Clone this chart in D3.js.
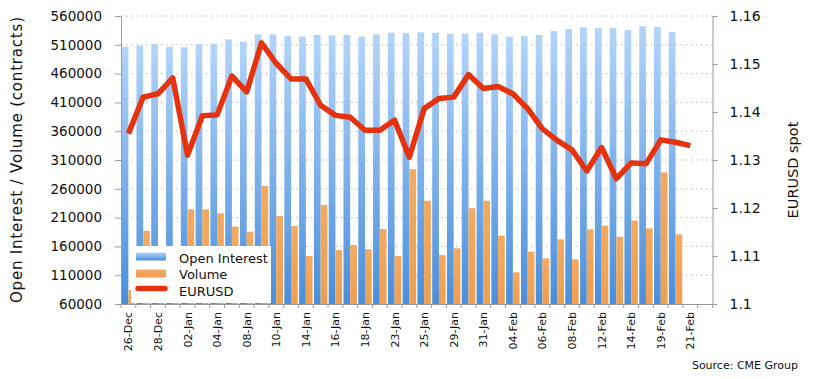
<!DOCTYPE html>
<html><head><meta charset="utf-8">
<script src="https://cdn.jsdelivr.net/npm/d3@7"></script>
<style>
body{margin:0;background:#fff;}
svg{display:block;font-family:"DejaVu Sans",sans-serif;}
</style>
</head><body>
<svg id="c" width="814" height="379"></svg>
<script>
const categories = ["26-Dec","27-Dec","28-Dec","31-Dec","02-Jan","03-Jan","04-Jan","07-Jan","08-Jan","09-Jan",
  "10-Jan","11-Jan","14-Jan","15-Jan","16-Jan","17-Jan","18-Jan","22-Jan","23-Jan","24-Jan",
  "25-Jan","28-Jan","29-Jan","30-Jan","31-Jan","01-Feb","04-Feb","05-Feb","06-Feb","07-Feb",
  "08-Feb","11-Feb","12-Feb","13-Feb","14-Feb","15-Feb","19-Feb","20-Feb","21-Feb","22-Feb"];
const tickLabels = ["26-Dec","28-Dec","02-Jan","04-Jan","08-Jan","10-Jan","14-Jan","16-Jan","18-Jan","23-Jan",
  "25-Jan","29-Jan","31-Jan","04-Feb","06-Feb","08-Feb","12-Feb","14-Feb","19-Feb","21-Feb"];
const openInterest = [506700,508400,511400,506700,505700,510900,511900,519500,515400,528200,
  528200,525300,524100,527000,526500,527000,524100,528200,531000,530500,
  531700,531000,528800,529300,531000,528200,524100,525300,527000,534000,
  537400,540400,539200,539200,535700,542600,540900,532200];
const volume = [84300,187000,130000,140000,224400,224400,217500,194300,185600,264900,
  212800,195400,143400,231900,153800,162500,155000,190200,143400,293900,
  239400,145100,156700,226200,239400,178600,115000,150800,139400,172300,
  137600,189700,196000,176900,204600,191400,288600,181000];
const eurusd = [1.1355,1.1431,1.1438,1.1471,1.1310,1.1392,1.1394,1.1475,1.1442,1.1544,
  1.1501,1.1469,1.1469,1.1414,1.1393,1.1389,1.1362,1.1362,1.1383,1.1306,
  1.1407,1.1428,1.1431,1.1478,1.1449,1.1453,1.1438,1.1407,1.1365,1.1341,
  1.1321,1.1277,1.1326,1.1261,1.1294,1.1292,1.1342,1.1337,1.1330];
const leftTicks = [60000,110000,160000,210000,260000,310000,360000,410000,460000,510000,560000];
const rightTicks = [1.10,1.11,1.12,1.13,1.14,1.15,1.16];
const seriesNames = ["Open Interest","Volume","EURUSD"];

const L = 121, R = 712.5, T = 16, B = 304;
const svg = d3.select("#c");

const defs = svg.append("defs");
const g1 = defs.append("linearGradient").attr("id","oiGrad").attr("x1",0).attr("y1",0).attr("x2",0).attr("y2",1);
g1.append("stop").attr("offset","0%").attr("stop-color","#b3d5fa");
g1.append("stop").attr("offset","100%").attr("stop-color","#4a8edb");
const g2 = defs.append("linearGradient").attr("id","volGrad").attr("x1",0).attr("y1",0).attr("x2",0).attr("y2",1);
g2.append("stop").attr("offset","0%").attr("stop-color","#f3aa60");
g2.append("stop").attr("offset","100%").attr("stop-color","#ee9f52");

const x = d3.scaleBand().domain(categories).range([L, R]).padding(0);
const xs = d3.scaleBand().domain(["oi","vol"]).range([0, x.bandwidth()]).paddingInner(0).paddingOuter(0.1);
const yL = d3.scaleLinear().domain([60000, 560000]).range([B, T]);
const yR = d3.scaleLinear().domain([1.10, 1.16]).range([B, T]);

// gridlines
svg.append("g").selectAll("line").data(leftTicks.slice(1)).join("line")
  .attr("x1", L).attr("x2", R).attr("y1", d => yL(d)).attr("y2", d => yL(d))
  .attr("stroke", "#b5b5b5").attr("stroke-width", 1).attr("stroke-dasharray", "1.5,3.5");

// bars
svg.append("g").selectAll("rect").data(openInterest).join("rect")
  .attr("x", (d,i) => x(categories[i]) + xs("oi"))
  .attr("width", xs.bandwidth())
  .attr("y", d => yL(d)).attr("height", d => B - yL(d))
  .attr("fill", "url(#oiGrad)");
svg.append("g").selectAll("rect").data(volume).join("rect")
  .attr("x", (d,i) => x(categories[i]) + xs("vol"))
  .attr("width", xs.bandwidth())
  .attr("y", d => yL(d)).attr("height", d => B - yL(d))
  .attr("fill", "url(#volGrad)");

// line
const line = d3.line().x((d,i) => x(categories[i]) + x.bandwidth()/2).y(d => yR(d));
svg.append("path").datum(eurusd).attr("d", line)
  .attr("fill","none").attr("stroke","#e5320f").attr("stroke-width",5.5)
  .attr("stroke-linejoin","round").attr("stroke-linecap","butt");

// axes
const axisColor = "#9a9a9a";
const gl = svg.append("g").attr("transform",`translate(${L},0)`)
  .call(d3.axisLeft(yL).tickValues(leftTicks).tickFormat(d3.format("d")).tickSize(6).tickSizeOuter(0).tickPadding(13));
const gr = svg.append("g").attr("transform",`translate(${R},0)`)
  .call(d3.axisRight(yR).tickValues(rightTicks).tickFormat(d => String(+d.toFixed(2))).tickSize(5).tickSizeOuter(0).tickPadding(12));
const gb = svg.append("g").attr("transform",`translate(0,${B})`)
  .call(d3.axisBottom(x).tickValues(tickLabels).tickSize(0).tickSizeOuter(0));
gb.selectAll("text").attr("transform","rotate(-90)").attr("x",-8).attr("y",0).attr("dy","0.36em")
  .attr("text-anchor","end").style("font-size","11px");
// category boundary ticks
svg.append("g").selectAll("line").data(categories.map(c => x(c)).concat([R])).join("line")
  .attr("x1", d => d).attr("x2", d => d).attr("y1", B).attr("y2", B + 4)
  .attr("stroke", axisColor);

[gl, gr, gb].forEach(g => {
  g.select(".domain").attr("stroke", axisColor);
  g.selectAll(".tick line").attr("stroke", axisColor);
  g.selectAll("text").attr("fill", "#111").style("font-family", '"DejaVu Sans",sans-serif');
});
gl.selectAll("text").style("font-size","13.5px");
gr.selectAll("text").style("font-size","14px");

// axis titles
svg.append("text").attr("transform","translate(22,160) rotate(-90)")
  .attr("text-anchor","middle").style("font-size","15px").attr("fill","#111")
  .attr("textLength", 286).attr("lengthAdjust","spacing")
  .text("Open Interest / Volume (contracts)");
svg.append("text").attr("transform","translate(798,170) rotate(-90)")
  .attr("text-anchor","middle").style("font-size","14.5px").attr("fill","#111")
  .text("EURUSD spot");

// legend
const lg = svg.append("g");
lg.append("rect").attr("x",131).attr("y",246).attr("width",140).attr("height",57).attr("fill","#fff");
lg.append("rect").attr("x",136).attr("y",252.5).attr("width",30).attr("height",8).attr("fill","url(#oiGrad)");
lg.append("rect").attr("x",136).attr("y",269.5).attr("width",30).attr("height",8).attr("fill","url(#volGrad)");
lg.append("line").attr("x1",138).attr("x2",165).attr("y1",288.5).attr("y2",288.5)
  .attr("stroke","#e5320f").attr("stroke-width",5.5).attr("stroke-linecap","round");
lg.selectAll("text").data(seriesNames).join("text")
  .attr("x",179).attr("y",(d,i) => 262.5 + i*16.5)
  .style("font-size","13px").attr("fill","#111").text(d => d);

// source
svg.append("text").attr("x",798).attr("y",369).attr("text-anchor","end")
  .style("font-size","11px").attr("fill","#111").text("Source: CME Group");
</script>
</body></html>
